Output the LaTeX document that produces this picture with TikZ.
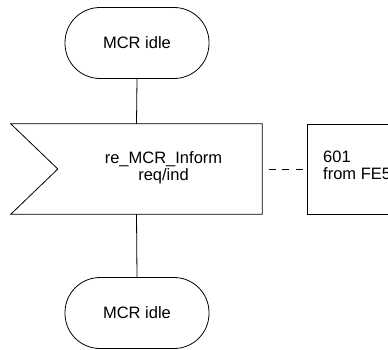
\documentclass[tikz,border=0pt]{standalone}
\usepackage{fontspec}
\setmainfont{Liberation Sans}
\begin{document}
\begin{tikzpicture}[x=1pt,y=-1pt,
  every node/.style={font=\fontsize{16.5}{17}\selectfont, inner sep=0pt},
  line/.style={draw=black, line width=0.8pt},
  term/.style={line, rounded corners=35pt, minimum width=144pt, minimum height=71pt},
  sigarea/.style={minimum width=251pt, minimum height=90pt},
  srcbox/.style={line, minimum width=113pt, minimum height=90pt},
  dashline/.style={line, dash pattern=on 7pt off 6.5pt, dash phase=7pt}]
\useasboundingbox (0,0) rectangle (388,349);
\clip (0,0) rectangle (388,349);
\node[term] (top) at (137,43) {MCR idle};
\node[sigarea] (sig) at (136.5,169) {};
\draw[line] (sig.north west) -- (sig.north east) -- (sig.south east) -- (sig.south west) -- ([xshift=47pt]sig.west) -- cycle;
\node[align=center] (sigtext) at (163.5,167.5) {re\_MCR\_Inform\\req/ind};
\node[srcbox] (src) at (363.5,169) {};
\node[align=left, anchor=west] (srctext) at (323,165.5) {601\\from FE5};
\node[term] (bot) at (137,313) {MCR idle};
\draw[line] (top.south) -- (sig.north);
\draw[line] (sig.south) -- (bot.north);
\draw[dashline] (sig.east) -- (src.west);
\end{tikzpicture}
\end{document}
